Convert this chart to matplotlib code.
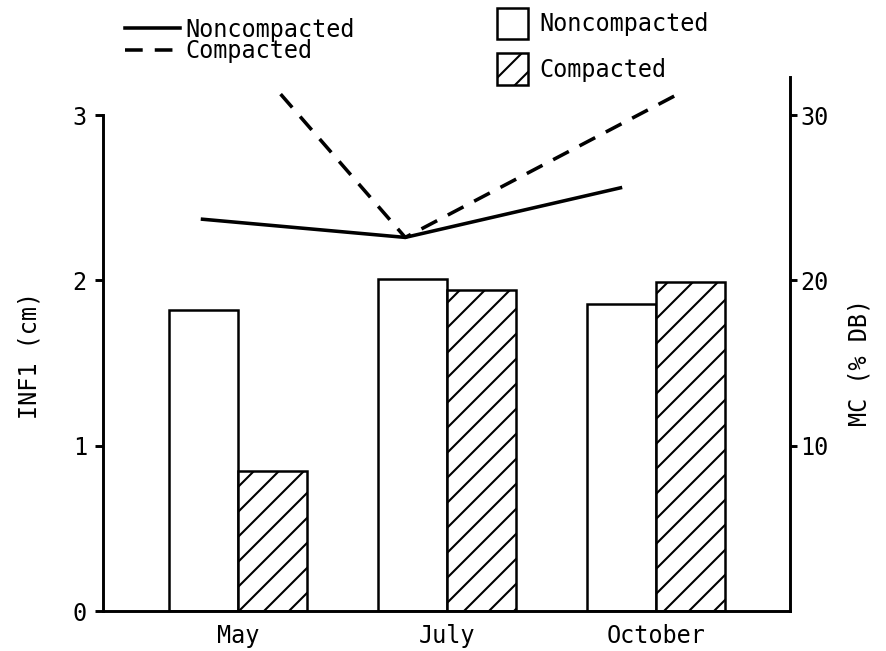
import numpy as np
import matplotlib.pyplot as plt

plt.rcParams['font.family'] = 'DejaVu Sans Mono'
plt.rcParams['font.size'] = 11.3
plt.rcParams['hatch.linewidth'] = 1.0
plt.rcParams['hatch.color'] = 'black'

# Infiltration (bars, left axis) and moisture content (lines, right axis)
months = ['May', 'July', 'October']
inf1_noncompacted = [1.82, 2.01, 1.86]
inf1_compacted = [0.85, 1.94, 1.99]
mc_noncompacted = [23.7, 22.6, 25.6]
mc_compacted = [36.7, 22.6, 31.3]
# where the MC traces are plotted along the month axis
mc_x_noncompacted = [-0.17, 0.80, 1.83]
mc_x_compacted = [-0.17, 0.80, 2.11]

x = np.arange(len(months))
width = 0.33

fig = plt.figure(figsize=(886 / 150, 651 / 150), dpi=150)
ax = fig.add_axes([0.1163, 0.0614, 0.7753, 0.805])

bars_non = ax.bar(x - width / 2, inf1_noncompacted, width, facecolor='white',
                  edgecolor='black', linewidth=1.2, label='Noncompacted')
bars_com = ax.bar(x + width / 2, inf1_compacted, width, facecolor='white',
                  edgecolor='black', linewidth=1.2, hatch='//', label='Compacted')

ax.set_xlim(-0.646, 2.641)
ax.set_ylim(0, 3.17)
ax.set_xticks(x)
ax.set_xticklabels(months)
ax.set_yticks([0, 1, 2, 3])
ax.tick_params(axis='x', length=0, pad=6)
ax.tick_params(axis='y', direction='out', length=3.8, width=1.4, pad=4)
ax.spines['top'].set_visible(False)
ax.spines['right'].set_visible(False)
ax.spines['left'].set_bounds(0, 3)
ax.spines['left'].set_linewidth(1.4)
ax.spines['bottom'].set_linewidth(1.4)
ax.set_ylabel('INF1 (cm)')
ax.yaxis.set_label_coords(-0.089, 0.487)

ax2 = ax.twinx()
ax2.set_ylim(0, 31.7)
line_non, = ax2.plot(mc_x_noncompacted, mc_noncompacted, color='black',
                     linewidth=1.7, label='Noncompacted')
line_com, = ax2.plot(mc_x_compacted, mc_compacted, color='black',
                     linewidth=1.7, dashes=(5, 3.4), label='Compacted')
ax2.set_yticks([10, 20, 30])
ax2.tick_params(axis='y', direction='out', length=3.5, width=1.4, pad=1.5)
for side in ['top', 'left', 'bottom']:
    ax2.spines[side].set_visible(False)
ax2.spines['right'].set_linewidth(1.4)
ax2.spines['right'].set_bounds(0, 32.3)
ax2.set_ylabel('MC (% DB)')
ax2.yaxis.set_label_coords(1.084, 0.475)

fig.legend(handles=[line_non, line_com], loc='upper left',
           bbox_to_anchor=(0.141, 0.973), frameon=False, borderpad=0,
           borderaxespad=0, handlelength=2.33, handletextpad=0.25,
           labelspacing=-0.1)
fig.legend(handles=[bars_non, bars_com], loc='upper left',
           bbox_to_anchor=(0.561, 0.988), frameon=False, borderpad=0,
           borderaxespad=0, handlelength=1.3, handleheight=1.67,
           handletextpad=0.5, labelspacing=0.6)

fig.savefig('out.png', dpi=150)
